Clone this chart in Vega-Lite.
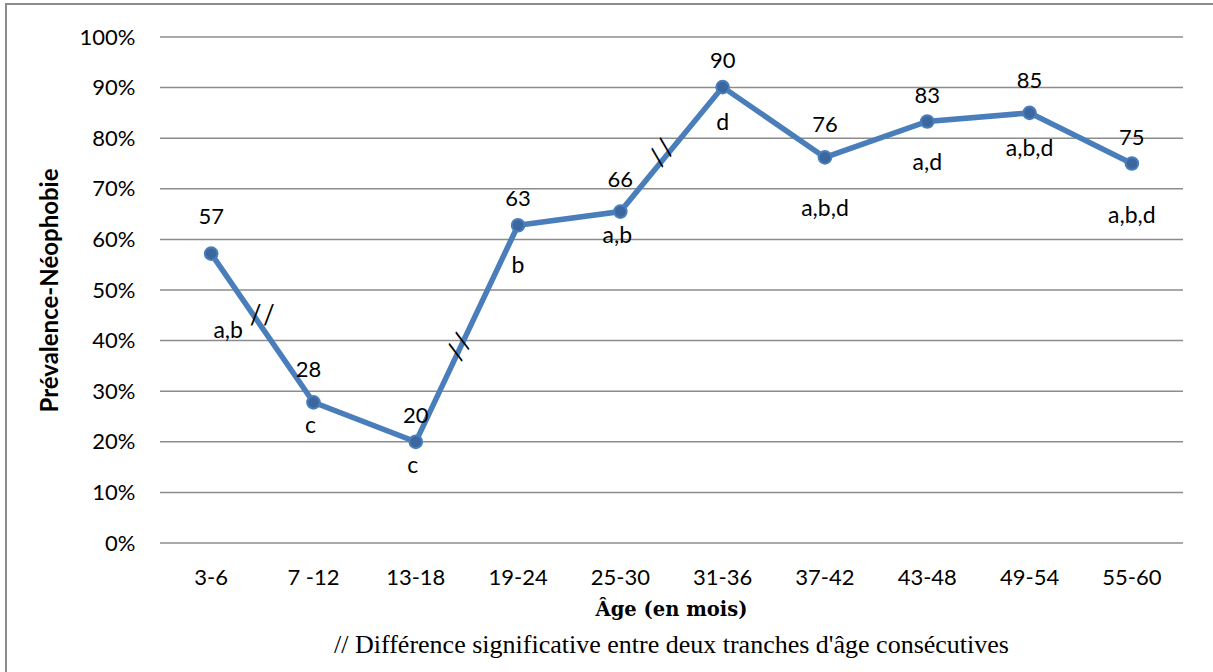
{
  "$schema": "https://vega.github.io/schema/vega-lite/v6.json",
  "width": 1210,
  "height": 670,
  "autosize": {"type": "none"},
  "padding": {"left": 6, "top": 4, "right": 0, "bottom": 0},
  "background": "white",
  "config": {"view": {"stroke": "#8c8c8c", "strokeWidth": 2}, "font": "Lato", "text": {"fontSize": 22, "color": "black", "baseline": "middle", "align": "center"}},
  "datasets": {
    "prev": [
      {"i": 0, "age": "3-6", "p": 0.572, "n": "57", "letters": "a,b"},
      {"i": 1, "age": "7 -12", "p": 0.278, "n": "28", "letters": "c"},
      {"i": 2, "age": "13-18", "p": 0.200, "n": "20", "letters": "c"},
      {"i": 3, "age": "19-24", "p": 0.628, "n": "63", "letters": "b"},
      {"i": 4, "age": "25-30", "p": 0.655, "n": "66", "letters": "a,b"},
      {"i": 5, "age": "31-36", "p": 0.901, "n": "90", "letters": "d"},
      {"i": 6, "age": "37-42", "p": 0.762, "n": "76", "letters": "a,b,d"},
      {"i": 7, "age": "43-48", "p": 0.833, "n": "83", "letters": "a,d"},
      {"i": 8, "age": "49-54", "p": 0.850, "n": "85", "letters": "a,b,d"},
      {"i": 9, "age": "55-60", "p": 0.750, "n": "75", "letters": "a,b,d"}
    ],
    "grid": [{"g": 0}, {"g": 0.1}, {"g": 0.2}, {"g": 0.3}, {"g": 0.4}, {"g": 0.5}, {"g": 0.6}, {"g": 0.7}, {"g": 0.8}, {"g": 0.9}, {"g": 1}],
    "breaks": [{"b": 1, "i": 0.5, "p": 0.449}, {"b": 2, "i": 2.43, "p": 0.387}, {"b": 3, "i": 4.41, "p": 0.771}]
  },
  "layer": [
    {
      "data": {"name": "grid"},
      "mark": {"type": "rule", "color": "#8c8c8c", "strokeWidth": 1.5},
      "encoding": {
        "y": {"field": "g", "type": "quantitative", "scale": {"domain": [0, 1], "range": [539, 33], "nice": false, "zero": false},
          "axis": {"orient": "left", "offset": -154, "domain": false, "ticks": false, "grid": false, "values": [0, 0.1, 0.2, 0.3, 0.4, 0.5, 0.6, 0.7, 0.8, 0.9, 1], "format": ".0%", "labelFontSize": 22, "labelPadding": 25, "labelColor": "black", "labelFont": "Lato",
            "title": "Prévalence-Néophobie", "titleFont": "Lato", "titleFontSize": 24, "titleFontWeight": "bold", "titleColor": "black", "titleX": -110, "titleY": 286, "titleAngle": 270, "titleAlign": "center", "titleBaseline": "middle"}},
        "x": {"datum": -0.5, "type": "quantitative", "scale": {"domain": [-0.5, 9.5], "range": [154, 1177], "nice": false, "zero": false}, "axis": null},
        "x2": {"datum": 9.5}
      }
    },
    {
      "data": {"name": "prev"},
      "mark": {"type": "line", "color": "#4a7ebb", "strokeWidth": 5.5},
      "encoding": {
        "x": {"field": "i", "type": "quantitative", "axis": null},
        "y": {"field": "p", "type": "quantitative"}
      }
    },
    {
      "data": {"name": "prev"},
      "mark": {"type": "circle", "size": 160, "color": "#3b679e", "stroke": "#4a7ebb", "strokeWidth": 2, "opacity": 1},
      "encoding": {
        "x": {"field": "i", "type": "quantitative"},
        "y": {"field": "p", "type": "quantitative"}
      }
    },
    {
      "data": {"name": "prev"},
      "transform": [{"filter": {"field": "age", "oneOf": ["3-6"]}}],
      "mark": {"type": "text", "dy": -37},
      "encoding": {"x": {"field": "i", "type": "quantitative"}, "y": {"field": "p", "type": "quantitative"}, "text": {"field": "n"}}
    },
    {
      "data": {"name": "prev"},
      "transform": [{"filter": {"field": "age", "oneOf": ["7 -12"]}}],
      "mark": {"type": "text", "dy": -32, "dx": -5},
      "encoding": {"x": {"field": "i", "type": "quantitative"}, "y": {"field": "p", "type": "quantitative"}, "text": {"field": "n"}}
    },
    {
      "data": {"name": "prev"},
      "transform": [{"filter": {"field": "age", "oneOf": ["25-30", "37-42", "49-54"]}}],
      "mark": {"type": "text", "dy": -32},
      "encoding": {"x": {"field": "i", "type": "quantitative"}, "y": {"field": "p", "type": "quantitative"}, "text": {"field": "n"}}
    },
    {
      "data": {"name": "prev"},
      "transform": [{"filter": {"field": "age", "oneOf": ["13-18", "19-24", "31-36", "43-48", "55-60"]}}],
      "mark": {"type": "text", "dy": -26},
      "encoding": {"x": {"field": "i", "type": "quantitative"}, "y": {"field": "p", "type": "quantitative"}, "text": {"field": "n"}}
    },
    {
      "data": {"name": "prev"},
      "transform": [{"filter": {"field": "age", "oneOf": ["3-6"]}}],
      "mark": {"type": "text", "dy": 77, "dx": 17, "fontSize": 23},
      "encoding": {"x": {"field": "i", "type": "quantitative"}, "y": {"field": "p", "type": "quantitative"}, "text": {"field": "letters"}}
    },
    {
      "data": {"name": "prev"},
      "transform": [{"filter": {"field": "age", "oneOf": ["7 -12", "13-18", "25-30"]}}],
      "mark": {"type": "text", "dy": 24, "dx": -3, "fontSize": 23},
      "encoding": {"x": {"field": "i", "type": "quantitative"}, "y": {"field": "p", "type": "quantitative"}, "text": {"field": "letters"}}
    },
    {
      "data": {"name": "prev"},
      "transform": [{"filter": {"field": "age", "oneOf": ["31-36", "49-54"]}}],
      "mark": {"type": "text", "dy": 36, "fontSize": 23},
      "encoding": {"x": {"field": "i", "type": "quantitative"}, "y": {"field": "p", "type": "quantitative"}, "text": {"field": "letters"}}
    },
    {
      "data": {"name": "prev"},
      "transform": [{"filter": {"field": "age", "oneOf": ["19-24", "43-48"]}}],
      "mark": {"type": "text", "dy": 41, "fontSize": 23},
      "encoding": {"x": {"field": "i", "type": "quantitative"}, "y": {"field": "p", "type": "quantitative"}, "text": {"field": "letters"}}
    },
    {
      "data": {"name": "prev"},
      "transform": [{"filter": {"field": "age", "oneOf": ["37-42", "55-60"]}}],
      "mark": {"type": "text", "dy": 52, "fontSize": 23},
      "encoding": {"x": {"field": "i", "type": "quantitative"}, "y": {"field": "p", "type": "quantitative"}, "text": {"field": "letters"}}
    },
    {
      "data": {"name": "prev"},
      "mark": {"type": "text"},
      "encoding": {"x": {"field": "i", "type": "quantitative"}, "y": {"datum": -0.069}, "text": {"field": "age"}}
    },
    {
      "data": {"name": "breaks"},
      "transform": [{"filter": "datum.b == 1"}],
      "mark": {"type": "text", "text": "/\u200a/", "fontSize": 26, "angle": 0},
      "encoding": {"x": {"field": "i", "type": "quantitative"}, "y": {"field": "p", "type": "quantitative"}}
    },
    {
      "data": {"name": "breaks"},
      "transform": [{"filter": "datum.b == 2"}],
      "mark": {"type": "text", "text": "/\u200a/", "fontSize": 26, "angle": -59},
      "encoding": {"x": {"field": "i", "type": "quantitative"}, "y": {"field": "p", "type": "quantitative"}}
    },
    {
      "data": {"name": "breaks"},
      "transform": [{"filter": "datum.b == 3"}],
      "mark": {"type": "text", "text": "/\u200a/", "fontSize": 26, "angle": -52},
      "encoding": {"x": {"field": "i", "type": "quantitative"}, "y": {"field": "p", "type": "quantitative"}}
    },
    {
      "data": {"values": [{"t": "Âge (en mois)"}]},
      "mark": {"type": "text", "font": "DejaVu Serif", "fontWeight": "bold", "fontSize": 19.5},
      "encoding": {"x": {"datum": 4.5, "type": "quantitative"}, "y": {"datum": -0.132, "type": "quantitative"}, "text": {"field": "t"}}
    },
    {
      "data": {"values": [{"t": "// Différence significative entre deux tranches d'âge consécutives"}]},
      "mark": {"type": "text", "font": "Liberation Serif", "fontSize": 26},
      "encoding": {"x": {"datum": 4.5, "type": "quantitative"}, "y": {"datum": -0.2016, "type": "quantitative"}, "text": {"field": "t"}}
    }
  ]
}
